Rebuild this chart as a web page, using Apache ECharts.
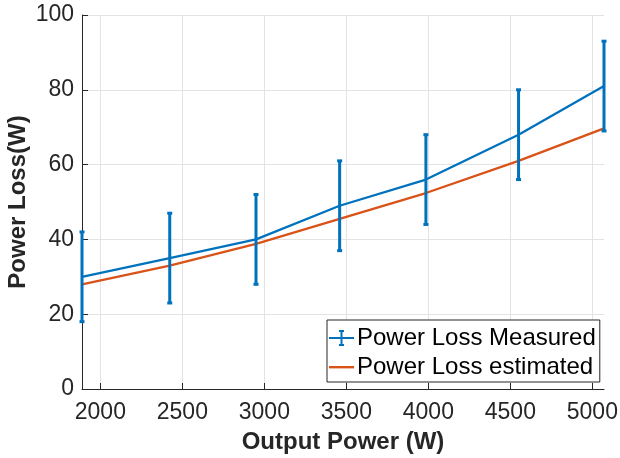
<!DOCTYPE html>
<html>
<head>
<meta charset="utf-8">
<script src="https://cdn.jsdelivr.net/npm/echarts@6/dist/echarts.min.js"></script>
<style>
  html, body { margin: 0; padding: 0; background: #fff; }
  #b { width: 620px; height: 458px; }
</style>
</head>
<body>
<div id="b"></div>
<script>
// output power (W) at each measurement
var power = [1888, 2423, 2949, 3459, 3985, 4550, 5071];
// measured power loss (W) and its error (+/-)
var lossMeasured = [30, 35, 40, 49, 56, 68, 81];
var lossErr = [12, 12, 12, 12, 12, 12, 12];
// estimated power loss (W)
var lossEstimated = [28, 33, 38.8, 45.5, 52.4, 61, 69.7];
var xTicks = [2000, 2500, 3000, 3500, 4000, 4500, 5000];

var font = "'Liberation Sans', Arial, Helvetica, sans-serif";
var ink = '#262626';

var measuredLine = power.map(function (p, i) { return [p, lossMeasured[i]]; });
var estimatedLine = power.map(function (p, i) { return [p, lossEstimated[i]]; });
var errBars = power.map(function (p, i) {
  return [p, lossMeasured[i] - lossErr[i], lossMeasured[i] + lossErr[i]];
});

var myChart = echarts.init(document.getElementById('b'));
var option = {
  animation: false,
  grid: { left: 82, right: 16, top: 15, bottom: 69, outerBoundsMode: 'none' },
  xAxis: {
    type: 'value',
    min: 1888,
    max: 5071,
    name: 'Output Power (W)',
    nameLocation: 'middle',
    nameGap: 41,
    nameMoveOverlap: false,
    nameTextStyle: { fontFamily: font, fontSize: 24, fontWeight: 'bold', color: ink },
    axisLine: { lineStyle: { color: ink, width: 1 } },
    axisTick: { inside: true, length: 6, customValues: xTicks, lineStyle: { color: ink } },
    axisLabel: {
      customValues: xTicks, fontFamily: font, fontSize: 23, color: ink, margin: 12,
      formatter: function (v) { return String(v); }
    },
    splitLine: { show: true, lineStyle: { color: '#e3e3e3', width: 1 } }
  },
  yAxis: {
    type: 'value',
    min: 0,
    max: 100,
    interval: 20,
    name: 'Power Loss(W)',
    nameLocation: 'middle',
    nameGap: 52,
    nameMoveOverlap: false,
    nameTextStyle: { fontFamily: font, fontSize: 24, fontWeight: 'bold', color: ink },
    axisLine: { show: true, lineStyle: { color: ink, width: 1 } },
    axisTick: { show: true, inside: true, length: 6, lineStyle: { color: ink } },
    axisLabel: { fontFamily: font, fontSize: 23, color: ink, margin: 8 },
    splitLine: { show: true, lineStyle: { color: '#e3e3e3', width: 1 } }
  },
  legend: {
    left: 327,
    top: 320,
    orient: 'vertical',
    backgroundColor: '#fff',
    borderColor: ink,
    borderWidth: 1,
    borderRadius: 0,
    padding: [6, 4, 3, 2],
    itemGap: 5,
    itemWidth: 25,
    itemHeight: 16,
    textStyle: { fontFamily: font, fontSize: 24, color: '#000', padding: [0, 0, 0, -2] },
    data: [
      { name: 'Power Loss Measured',
        icon: 'path://M0,7H25V9H0Z M11.5,0H13.5V16H11.5Z M10,0H15V2H10Z M10,14H15V16H10Z' },
      { name: 'Power Loss estimated',
        icon: 'path://M0,0L0,0 M0,7H25V9.4H0Z M25,16L25,16' }
    ]
  },
  series: [
    {
      name: 'Power Loss Measured',
      type: 'line',
      data: measuredLine,
      symbol: 'none',
      z: 3,
      itemStyle: { color: '#0072BD' },
      lineStyle: { color: '#0072BD', width: 2.3 }
    },
    {
      name: 'Power Loss Measured',
      type: 'custom',
      data: errBars,
      z: 4,
      itemStyle: { color: '#0072BD' },
      renderItem: function (params, api) {
        var x = api.value(0);
        var lo = api.coord([x, api.value(1)]);
        var hi = api.coord([x, api.value(2)]);
        var cap = 2.5;
        var st = { stroke: '#0072BD', lineWidth: 3 };
        return {
          type: 'group',
          children: [
            { type: 'line', shape: { x1: lo[0], y1: lo[1], x2: hi[0], y2: hi[1] }, style: st },
            { type: 'line', shape: { x1: lo[0] - cap, y1: lo[1], x2: lo[0] + cap, y2: lo[1] }, style: st },
            { type: 'line', shape: { x1: hi[0] - cap, y1: hi[1], x2: hi[0] + cap, y2: hi[1] }, style: st }
          ]
        };
      }
    },
    {
      name: 'Power Loss estimated',
      type: 'line',
      data: estimatedLine,
      symbol: 'none',
      z: 2,
      itemStyle: { color: '#D95319' },
      lineStyle: { color: '#D95319', width: 2.3 }
    }
  ]
};
option && myChart.setOption(option);
</script>
</body>
</html>
